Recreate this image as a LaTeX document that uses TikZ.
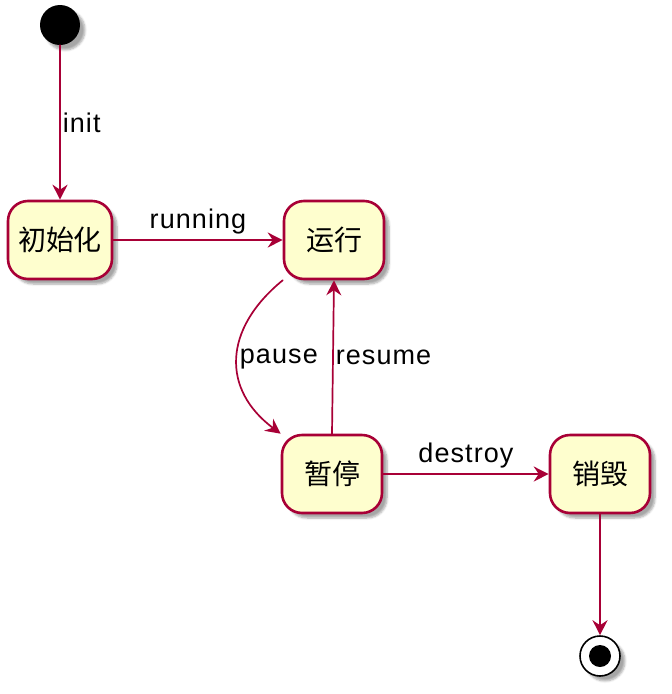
\documentclass[tikz,border=0pt]{standalone}
\usepackage{fontspec}
\setmainfont{Liberation Sans}
\newfontfamily\cjk{Noto Sans CJK SC}
\newfontfamily\lblfont[LetterSpace=4]{Liberation Sans}
\usetikzlibrary{arrows.meta,shadows.blur}
\definecolor{umlred}{HTML}{A80036}
\definecolor{umlfill}{HTML}{FEFECE}
\tikzset{
  state/.style={draw=umlred,fill=umlfill,line width=2.6pt,rounded corners=20pt,
    minimum width=100pt,minimum height=78pt,inner xsep=10pt,font=\cjk\fontsize{28}{30}\selectfont,
    blur shadow={shadow xshift=5pt,shadow yshift=-5pt,shadow blur steps=6,shadow opacity=35}},
  trans/.style={draw=umlred,line width=1.7pt,-{Stealth[length=15pt,width=15pt,inset=5pt]}},
  lbl/.style={font=\lblfont\fontsize{27}{30}\selectfont,inner sep=2pt}
}
\begin{document}
\begin{tikzpicture}[x=1pt,y=-1pt,line cap=round,line join=round]
  \useasboundingbox (0,0) rectangle (672,694);
  \node[circle,fill=black,minimum size=40pt,inner sep=0pt,
    blur shadow={shadow xshift=5pt,shadow yshift=-5pt,shadow blur steps=6,shadow opacity=35}] (start) at (60,25) {};
  \node[state] (chushi) at (60,240) {初始化};
  \node[state] (yunxing) at (334,240) {运行};
  \node[state] (zanting) at (332,474) {暂停};
  \node[state] (xiaohui) at (600,474) {销毁};
  \node[circle,draw=black,fill=white,line width=1.6pt,minimum size=40pt,inner sep=0pt,
    blur shadow={shadow xshift=5pt,shadow yshift=-5pt,shadow blur steps=6,shadow opacity=35}] (stop) at (600,656) {};
  \fill (stop) circle (11pt);
  \draw[trans] (start) -- node[lbl,right] {init} (chushi);
  \draw[trans] (chushi) -- node[lbl,above=3pt] {running} (yunxing);
  \draw[trans] (yunxing.south west) .. controls +(-60,49) and +(-59,-44) .. node[lbl,right] {pause} (zanting.north west);
  \draw[trans] (zanting.north) -- node[lbl,right] {resume} (yunxing.south);
  \draw[trans] (zanting) -- node[lbl,above=3pt] {destroy} (xiaohui);
  \draw[trans] (xiaohui) -- (stop);
\end{tikzpicture}
\end{document}
